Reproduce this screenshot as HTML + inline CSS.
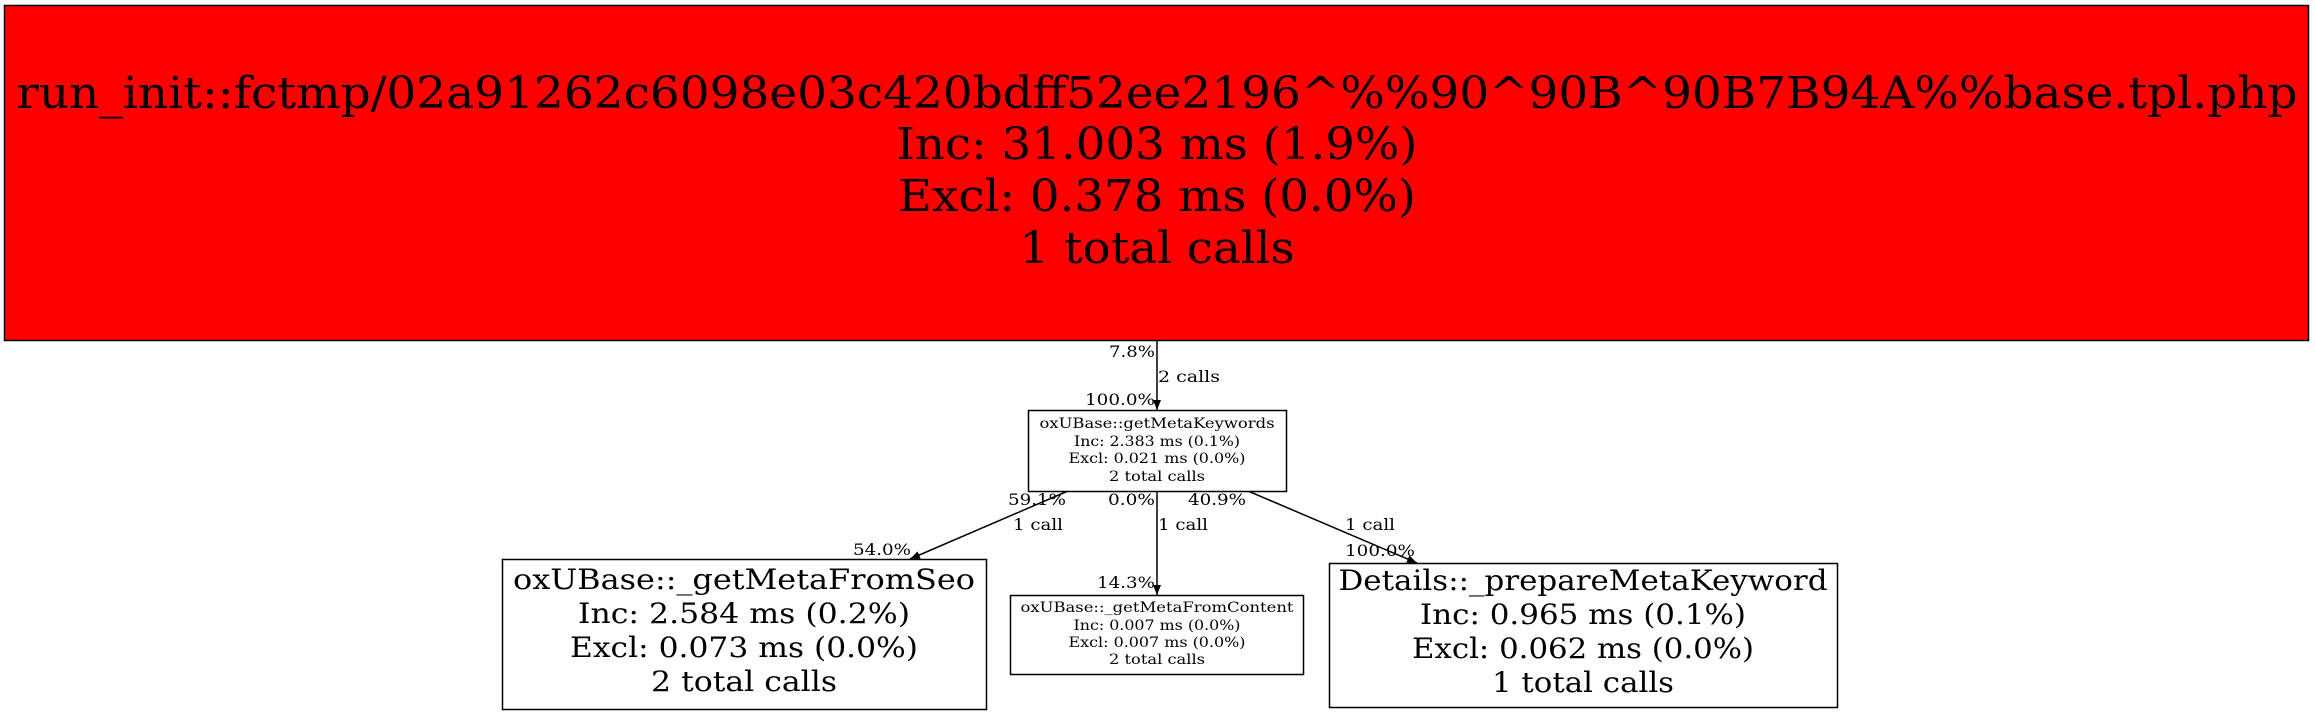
<!DOCTYPE html>
<html><head><meta charset="utf-8"><style>
html,body{margin:0;padding:0;background:#fff;width:2315px;height:715px;overflow:hidden}
text{font-family:"DejaVu Serif","Liberation Serif",serif;fill:#000}
</style></head><body>
<svg width="2315" height="715" xmlns="http://www.w3.org/2000/svg">
<defs><marker id="a" markerWidth="10" markerHeight="8" refX="10" refY="4" orient="auto" markerUnits="userSpaceOnUse"><path d="M0,0 L10,4 L0,8 z" fill="#000"/></marker></defs>
<rect x="4.5" y="5.5" width="2304" height="335" fill="#ff0000" stroke="#000" stroke-width="1.5"/>
<g font-size="44" text-anchor="middle" lengthAdjust="spacingAndGlyphs">
<text x="1157" y="108" textLength="2281" lengthAdjust="spacingAndGlyphs">run_init::fctmp/02a91262c6098e03c420bdff52ee2196^%%90^90B^90B7B94A%%base.tpl.php</text>
<text x="1157" y="159" textLength="521" lengthAdjust="spacingAndGlyphs">Inc: 31.003 ms (1.9%)</text>
<text x="1157" y="211" textLength="518" lengthAdjust="spacingAndGlyphs">Excl: 0.378 ms (0.0%)</text>
<text x="1157" y="263" textLength="275" lengthAdjust="spacingAndGlyphs">1 total calls</text>
</g>
<g stroke="#000" stroke-width="1.5" fill="none">
<line x1="1157" y1="341" x2="1157" y2="410" marker-end="url(#a)"/>
<line x1="1157" y1="491" x2="1157" y2="595" marker-end="url(#a)"/>
<line x1="1068" y1="491" x2="910" y2="559" marker-end="url(#a)"/>
<line x1="1248" y1="491" x2="1417" y2="563" marker-end="url(#a)"/>
</g>
<rect x="1028.5" y="410.5" width="258" height="81" fill="#fff" stroke="#000" stroke-width="1.5"/>
<g font-size="14" text-anchor="middle" style="fill:#333">
<text x="1157" y="428" textLength="235" lengthAdjust="spacingAndGlyphs">oxUBase::getMetaKeywords</text>
<text x="1157" y="446" textLength="166" lengthAdjust="spacingAndGlyphs">Inc: 2.383 ms (0.1%)</text>
<text x="1157" y="463" textLength="177" lengthAdjust="spacingAndGlyphs">Excl: 0.021 ms (0.0%)</text>
<text x="1157" y="481" textLength="96" lengthAdjust="spacingAndGlyphs">2 total calls</text>
</g>
<rect x="1010.5" y="595.5" width="293" height="79" fill="#fff" stroke="#000" stroke-width="1.5"/>
<g font-size="14" text-anchor="middle">
<text x="1157" y="612" textLength="273" lengthAdjust="spacingAndGlyphs">oxUBase::_getMetaFromContent</text>
<text x="1157" y="630" textLength="167" lengthAdjust="spacingAndGlyphs">Inc: 0.007 ms (0.0%)</text>
<text x="1157" y="647" textLength="177" lengthAdjust="spacingAndGlyphs">Excl: 0.007 ms (0.0%)</text>
<text x="1157" y="664" textLength="96" lengthAdjust="spacingAndGlyphs">2 total calls</text>
</g>
<rect x="502.5" y="559.5" width="484" height="150" fill="#fff" stroke="#000" stroke-width="1.5"/>
<g font-size="28" text-anchor="middle">
<text x="744" y="589" textLength="462" lengthAdjust="spacingAndGlyphs">oxUBase::_getMetaFromSeo</text>
<text x="744" y="623" textLength="332" lengthAdjust="spacingAndGlyphs">Inc: 2.584 ms (0.2%)</text>
<text x="744" y="657" textLength="348" lengthAdjust="spacingAndGlyphs">Excl: 0.073 ms (0.0%)</text>
<text x="744" y="691" textLength="186" lengthAdjust="spacingAndGlyphs">2 total calls</text>
</g>
<rect x="1329.5" y="563.5" width="508" height="144" fill="#fff" stroke="#000" stroke-width="1.5"/>
<g font-size="28" text-anchor="middle">
<text x="1583" y="590" textLength="489" lengthAdjust="spacingAndGlyphs">Details::_prepareMetaKeyword</text>
<text x="1583" y="624" textLength="326" lengthAdjust="spacingAndGlyphs">Inc: 0.965 ms (0.1%)</text>
<text x="1583" y="658" textLength="342" lengthAdjust="spacingAndGlyphs">Excl: 0.062 ms (0.0%)</text>
<text x="1583" y="692" textLength="182" lengthAdjust="spacingAndGlyphs">1 total calls</text>
</g>
<g font-size="16">
<text x="1155" y="357" text-anchor="end" textLength="46" lengthAdjust="spacingAndGlyphs">7.8%</text>
<text x="1158" y="382" textLength="62" lengthAdjust="spacingAndGlyphs">2 calls</text>
<text x="1155" y="405" text-anchor="end" textLength="70" lengthAdjust="spacingAndGlyphs">100.0%</text>
<text x="1008" y="505" textLength="58" lengthAdjust="spacingAndGlyphs">59.1%</text>
<text x="1155" y="505" text-anchor="end" textLength="47" lengthAdjust="spacingAndGlyphs">0.0%</text>
<text x="1188" y="505" textLength="58" lengthAdjust="spacingAndGlyphs">40.9%</text>
<text x="1013" y="530" textLength="50" lengthAdjust="spacingAndGlyphs">1 call</text>
<text x="1158" y="530" textLength="50" lengthAdjust="spacingAndGlyphs">1 call</text>
<text x="1345" y="530" textLength="50" lengthAdjust="spacingAndGlyphs">1 call</text>
<text x="911" y="555" text-anchor="end" textLength="58" lengthAdjust="spacingAndGlyphs">54.0%</text>
<text x="1155" y="588" text-anchor="end" textLength="58" lengthAdjust="spacingAndGlyphs">14.3%</text>
<text x="1345" y="556" textLength="70" lengthAdjust="spacingAndGlyphs">100.0%</text>
</g>
</svg>
</body></html>
